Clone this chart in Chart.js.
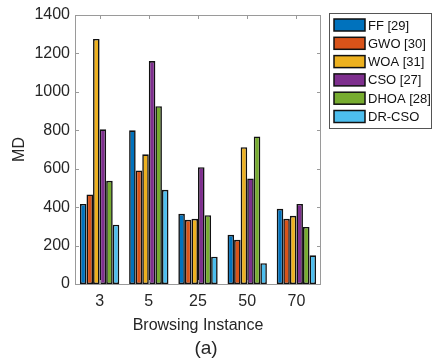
<!DOCTYPE html>
<html>
<head>
<meta charset="utf-8">
<script src="https://cdn.jsdelivr.net/npm/chart.js@4/dist/chart.umd.min.js"></script>
<style>
  html, body { margin: 0; padding: 0; background: #fff; }
  #wrap { width: 433px; height: 362px; }
</style>
</head>
<body>
<div id="wrap"><canvas id="bars" width="433" height="362"></canvas></div>
<script>
var instances = ['3', '5', '25', '50', '70'];
var ff    = [417, 800, 365, 256, 391];
var gwo   = [466, 591, 334, 230, 339];
var woa   = [1275, 675, 339, 712, 355];
var cso   = [805, 1160, 608, 549, 417];
var dhoa  = [537, 925, 358, 768, 297];
var drcso = [309, 490, 142, 108, 149];

var names = ['FF [29]', 'GWO [30]', 'WOA [31]', 'CSO [27]', 'DHOA [28]', 'DR-CSO'];
var colors = ['#0072BD', '#D95319', '#EDB120', '#7E2F8E', '#77AC30', '#4DBEEE'];
var series = [ff, gwo, woa, cso, dhoa, drcso];

var txt = '#262626';
var axisGray = '#9a9a9a';

// box around the axes, inward ticks, legend and the (a) caption
var extras = {
    id: 'extras',
    afterDraw: function(chart) {
        var c = chart.ctx, a = chart.chartArea;
        var xs = chart.scales.x, ys = chart.scales.y;
        c.save();
        c.strokeStyle = axisGray;
        c.lineWidth = 1;
        c.strokeRect(a.left + 0.5, a.top + 0.5, a.right - a.left - 1, a.bottom - a.top);
        c.beginPath();
        xs.ticks.forEach(function(t, i) {
            var px = Math.round(xs.getPixelForTick(i)) + 0.5;
            c.moveTo(px, a.top); c.lineTo(px, a.top + 4);
            c.moveTo(px, a.bottom); c.lineTo(px, a.bottom - 4);
        });
        ys.ticks.forEach(function(t) {
            var py = Math.round(ys.getPixelForValue(t.value)) + 0.5;
            c.moveTo(a.left, py); c.lineTo(a.left + 4, py);
            c.moveTo(a.right, py); c.lineTo(a.right - 4, py);
        });
        c.stroke();

        // legend
        var lx = 329, ly = 13, lw = 102, lh = 115;
        c.fillStyle = '#fff';
        c.fillRect(lx, ly, lw, lh);
        c.strokeStyle = '#555';
        c.strokeRect(lx + 0.5, ly + 0.5, lw, lh);
        c.font = '13px "Liberation Sans", Arial, sans-serif';
        c.textBaseline = 'middle';
        chart.data.datasets.forEach(function(ds, i) {
            var cy = 25 + i * 18.3;
            c.fillStyle = ds.backgroundColor;
            c.fillRect(334, cy - 6, 31, 12);
            c.strokeStyle = '#111';
            c.lineWidth = 1.5;
            c.strokeRect(334, cy - 6, 31, 12);
            c.fillStyle = '#111';
            c.fillText(ds.label, 368, cy + 1);
        });

        c.font = '19px "Liberation Sans", Arial, sans-serif';
        c.fillStyle = txt;
        c.textAlign = 'center';
        c.fillText('(a)', 206, 349);
        c.restore();
    }
};

var ctx = document.getElementById('bars').getContext('2d');
var myChart = new Chart(ctx, {
    type: 'bar',
    data: {
        labels: instances,
        datasets: series.map(function(vals, i) {
            return {
                label: names[i],
                data: vals,
                backgroundColor: colors[i],
                borderColor: '#111',
                borderWidth: 1.6,
                borderSkipped: false,
                categoryPercentage: 0.8,
                barPercentage: 1.0
            };
        })
    },
    options: {
        responsive: false,
        animation: false,
        layout: { padding: { left: 10, right: 112, top: 15, bottom: 27 } },
        plugins: {
            legend: { display: false },
            tooltip: { enabled: false }
        },
        scales: {
            x: {
                grid: { display: false, drawTicks: false },
                border: { display: false },
                ticks: { color: txt, padding: 8, font: { size: 16, family: '"Liberation Sans", Arial' } },
                title: {
                    display: true, text: 'Browsing Instance', color: txt,
                    font: { size: 16, family: '"Liberation Sans", Arial' },
                    padding: { top: 4, bottom: 0 }
                },
                afterFit: function(s) { s.height = 51; }
            },
            y: {
                min: 0, max: 1400,
                grid: { display: false, drawTicks: false },
                border: { display: false },
                ticks: {
                    stepSize: 200, color: txt, padding: 5,
                    font: { size: 16, family: '"Liberation Sans", Arial' },
                    callback: function(v) { return String(v); }
                },
                title: {
                    display: true, text: 'MD', color: txt,
                    font: { size: 16, family: '"Liberation Sans", Arial' },
                    padding: { top: 0, bottom: 4 }
                },
                afterFit: function(s) { s.width = 65; }
            }
        }
    },
    plugins: [extras]
});
</script>
</body>
</html>
